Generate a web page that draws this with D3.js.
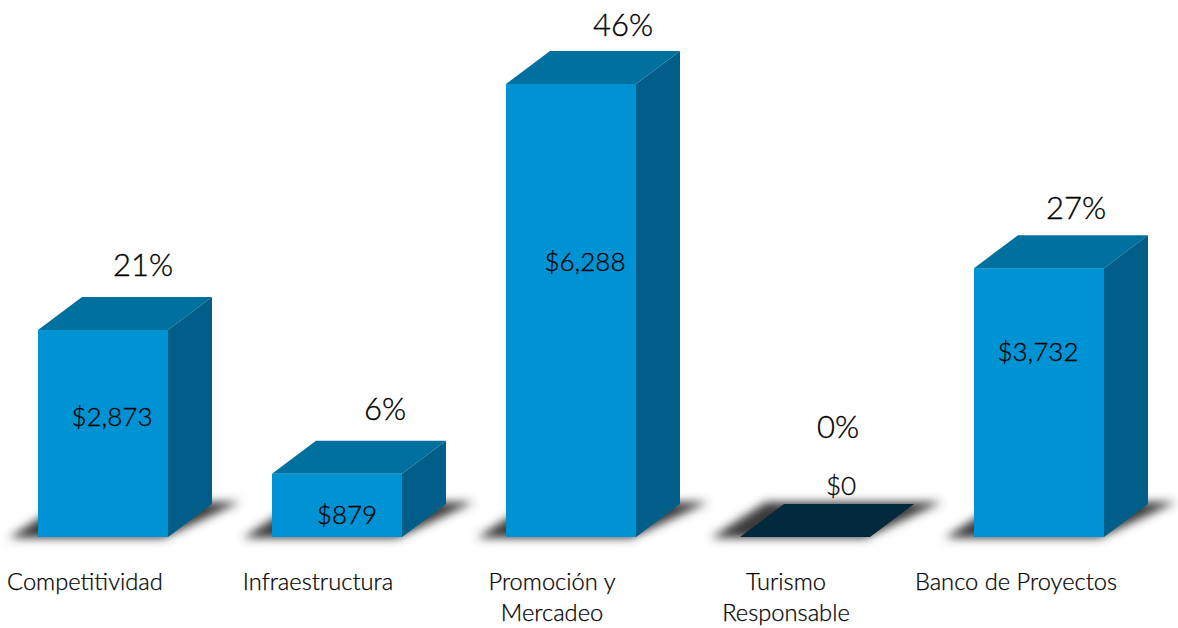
<!DOCTYPE html>
<html lang="es">

<head>
    <meta charset="utf-8">
    <title>Inversión por programa</title>
    <style>
        html, body { margin: 0; padding: 0; background: #fff; }
        svg { display: block; }
        text { font-family: Lato, "Open Sans", sans-serif; fill: #000; text-anchor: middle; }
        text.pct { font-size: 31px; font-weight: 300; stroke: #000; stroke-width: 0.35px; }
        text.val { font-size: 26px; font-weight: 300; stroke: #000; stroke-width: 0.3px; }
        text.cat { font-size: 23.7px; font-weight: 300; stroke: #000; stroke-width: 0.25px; }
    </style>
</head>

<body>
    <svg width="1178" height="628"></svg>
    <script src="https://d3js.org/d3.v7.min.js"></script>
    <script>
        const categories = ['Competitividad', 'Infraestructura', 'Promoción y|Mercadeo', 'Turismo|Responsable', 'Banco de Proyectos'];
        const values = [2873, 879, 6288, 0, 3732];
        const percents = ['21%', '6%', '46%', '0%', '27%'];
        const valueLabels = ['$2,873', '$879', '$6,288', '$0', '$3,732'];

        // hand placed label nudges, the original labels are not centred on the bars
        const pctNudge = [[40, -54], [48, -54], [52, -48], [33, -99], [37, -49]];
        const valNudge = [[9, 96], [10, 50], [14, 187], [36, -42], [-1, 93]];
        const catCentre = [-18, -19, -19, -19, -23];

        const baseY = 537, depthX = 44, depthY = 33;

        const svg = d3.select('svg');

        const x = d3.scaleBand()
            .domain(categories)
            .range([38, 1104])
            .paddingInner(104 / 234);

        const y = d3.scaleLinear()
            .domain([0, 6288])
            .range([baseY, 84]);

        const defs = svg.append('defs');
        defs.append('filter').attr('id', 'blur')
            .attr('x', '-20%').attr('y', '-40%').attr('width', '140%').attr('height', '180%')
            .append('feGaussianBlur').attr('stdDeviation', 5);

        const pts = a => a.map(p => p.join(',')).join(' ');

        const bars = svg.append('g').selectAll('g')
            .data(categories)
            .enter().append('g')
            .attr('class', 'bar');

        // floor shadow
        bars.append('polygon')
            .attr('fill', '#3a3a3a')
            .attr('filter', 'url(#blur)')
            .attr('points', d => {
                const l = x(d), r = l + x.bandwidth();
                return pts([[l - 29, baseY + 1], [r - 5, baseY + 1], [r + depthX + 28, baseY - depthY - 2], [l + depthX - 18, baseY - depthY - 2]]);
            });

        bars.each(function (d, i) {
            const g = d3.select(this);
            const l = x(d), r = l + x.bandwidth(), t = y(values[i]);
            if (values[i] === 0) {
                g.append('polygon')
                    .attr('fill', '#022a3c')
                    .attr('points', pts([[l, baseY], [r, baseY], [r + depthX, baseY - depthY], [l + depthX, baseY - depthY]]));
                return;
            }
            // top
            g.append('polygon')
                .attr('fill', '#00709f')
                .attr('points', pts([[l, t], [r, t], [r + depthX, t - depthY], [l + depthX, t - depthY]]));
            // side
            g.append('polygon')
                .attr('fill', '#005e88')
                .attr('points', pts([[r, t], [r + depthX, t - depthY], [r + depthX, baseY - depthY], [r, baseY]]));
            // front
            g.append('rect')
                .attr('x', l)
                .attr('y', t)
                .attr('width', x.bandwidth())
                .attr('height', baseY - t)
                .attr('fill', '#0093d3');
        });

        const centre = d => x(d) + x.bandwidth() / 2;

        bars.append('text')
            .attr('class', 'pct')
            .attr('x', (d, i) => centre(d) + pctNudge[i][0])
            .attr('y', (d, i) => y(values[i]) + pctNudge[i][1])
            .text((d, i) => percents[i]);

        bars.append('text')
            .attr('class', 'val')
            .attr('x', (d, i) => centre(d) + valNudge[i][0])
            .attr('y', (d, i) => y(values[i]) + valNudge[i][1])
            .text((d, i) => valueLabels[i]);

        bars.each(function (d, i) {
            const lines = d.split('|');
            lines.forEach((line, k) => {
                d3.select(this).append('text')
                    .attr('class', 'cat')
                    .attr('x', centre(d) + catCentre[i])
                    .attr('y', 590 + k * 31)
                    .text(line);
            });
        });
    </script>
</body>

</html>
